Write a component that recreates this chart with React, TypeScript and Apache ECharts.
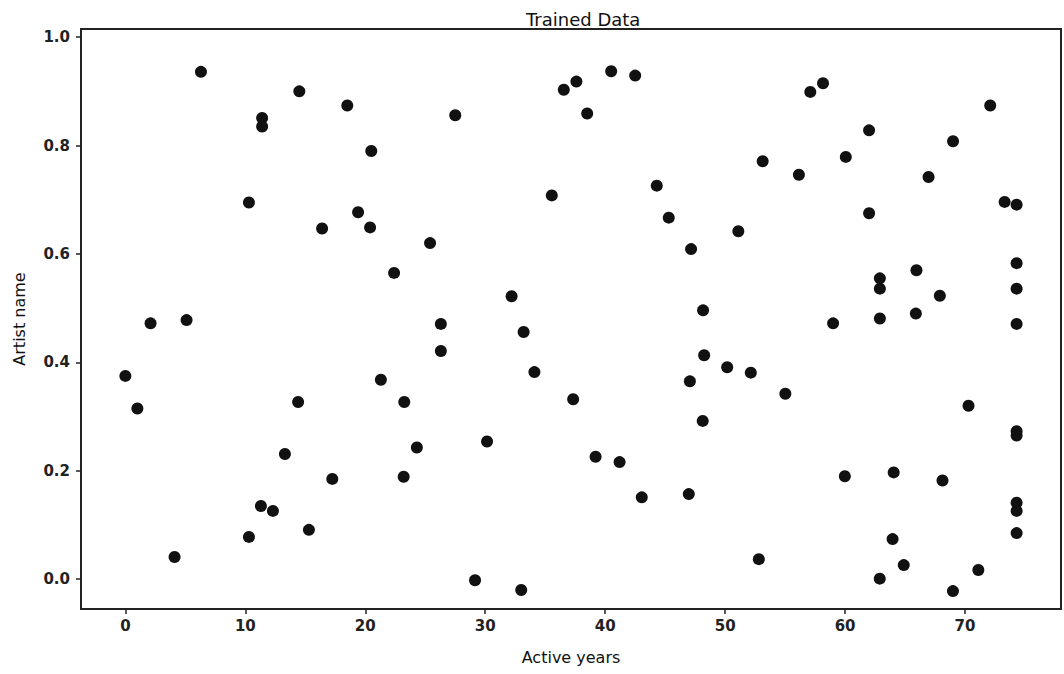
import React, { useEffect, useRef } from "react";
import * as echarts from "echarts";

const activeYears: number[] = [
  0.0, 1.0, 2.1, 4.1, 5.1, 6.3, 10.3, 10.3, 11.3, 11.4, 11.4, 12.3, 13.3, 14.4, 14.5, 15.3,
  16.4, 17.25, 18.5, 19.4, 20.5, 20.4, 21.3, 22.4, 23.25, 23.2, 24.3, 25.4, 26.3, 26.3, 27.5,
  29.15, 30.15, 32.2, 33.0, 33.2, 34.1, 35.55, 36.55, 37.33, 37.6, 38.5, 39.2, 40.5, 41.2,
  42.5, 43.05, 44.3, 45.3, 46.97, 47.16, 47.06, 48.13, 48.25, 48.16, 50.17, 51.1, 52.14,
  52.81, 53.13, 55.02, 56.15, 57.1, 58.16, 59.0, 59.98, 60.06, 62.0, 62.0, 62.9, 62.9, 62.9,
  62.89, 63.96, 64.05, 64.89, 65.95, 65.9, 66.96, 67.9, 68.12, 68.99, 69.0, 70.29, 71.11,
  72.1, 73.3, 74.3, 74.3, 74.3, 74.3, 74.3, 74.3, 74.3, 74.3, 74.3,
];

const artistName: number[] = [
  0.375, 0.315, 0.472, 0.041, 0.478, 0.936, 0.695, 0.078, 0.135, 0.851, 0.835, 0.126, 0.231,
  0.327, 0.9, 0.091, 0.647, 0.185, 0.874, 0.677, 0.79, 0.649, 0.368, 0.565, 0.327, 0.189,
  0.243, 0.62, 0.471, 0.421, 0.856, -0.002, 0.254, 0.522, -0.02, 0.456, 0.382, 0.708, 0.903,
  0.332, 0.918, 0.859, 0.226, 0.937, 0.216, 0.929, 0.151, 0.726, 0.667, 0.157, 0.609, 0.365,
  0.292, 0.413, 0.496, 0.391, 0.642, 0.381, 0.037, 0.771, 0.342, 0.746, 0.899, 0.915, 0.472,
  0.19, 0.779, 0.828, 0.675, 0.555, 0.536, 0.481, 0.001, 0.074, 0.197, 0.026, 0.57, 0.49,
  0.742, 0.523, 0.182, -0.022, 0.808, 0.32, 0.017, 0.874, 0.696, 0.691, 0.583, 0.536, 0.471,
  0.273, 0.265, 0.141, 0.126, 0.085,
];

const xTicks: number[] = [0, 10, 20, 30, 40, 50, 60, 70];
const yTicks: number[] = [0, 0.2, 0.4, 0.6, 0.8, 1.0];

const titleText = "Trained Data";
const xName = "Active years";
const yName = "Artist name";

export default function App() {
  const ref = useRef<HTMLDivElement>(null);

  useEffect(() => {
    if (!ref.current) return;
    const chart = echarts.init(ref.current, null, { renderer: "svg" });
    const font = "DejaVu Sans";
    const data = activeYears.map((x, i) => [x, artistName[i]]);
    chart.setOption({
      animation: false,
      backgroundColor: "#ffffff",
      title: {
        text: titleText,
        left: 521,
        top: 5,
        textStyle: { fontFamily: font, fontSize: 18, fontWeight: "normal", color: "#111" },
      },
      grid: {
        left: 81,
        right: 3,
        top: 29,
        bottom: 65,
        show: true,
        borderColor: "#222",
        borderWidth: 2,
        backgroundColor: "transparent",
      },
      xAxis: {
        type: "value",
        min: -3.7,
        max: 78,
        name: xName,
        nameLocation: "middle",
        nameGap: 40,
        nameTextStyle: { fontFamily: font, fontSize: 16, color: "#111" },
        axisLine: { show: true, onZero: false, lineStyle: { color: "#222", width: 2 } },
        axisTick: { show: true, inside: false, length: 5, customValues: xTicks, lineStyle: { color: "#222", width: 1.5 } },
        axisLabel: {
          customValues: xTicks,
          margin: 9,
          fontFamily: font,
          fontSize: 15,
          fontWeight: "bold",
          color: "#222",
          formatter: (v: number) => String(v),
        },
        splitLine: { show: false },
      },
      yAxis: {
        type: "value",
        min: -0.055,
        max: 1.015,
        name: yName,
        nameLocation: "middle",
        nameGap: 54,
        nameTextStyle: { fontFamily: font, fontSize: 16, color: "#111" },
        axisLine: { show: true, onZero: false, lineStyle: { color: "#222", width: 2 } },
        axisTick: { show: true, inside: false, length: 5, customValues: yTicks, lineStyle: { color: "#222", width: 1.5 } },
        axisLabel: {
          customValues: yTicks,
          margin: 11,
          fontFamily: font,
          fontSize: 15,
          fontWeight: "bold",
          color: "#222",
          formatter: (v: number) => v.toFixed(1),
        },
        splitLine: { show: false },
      },
      series: [
        {
          type: "scatter",
          data,
          symbol: "circle",
          symbolSize: 12,
          itemStyle: { color: "#111111", opacity: 1 },
        },
      ],
    });
    return () => chart.dispose();
  }, []);

  return (
    <div
      ref={ref}
      style={{ position: "absolute", left: 0, top: 0, width: 1064, height: 674, background: "#fff" }}
    />
  );
}
